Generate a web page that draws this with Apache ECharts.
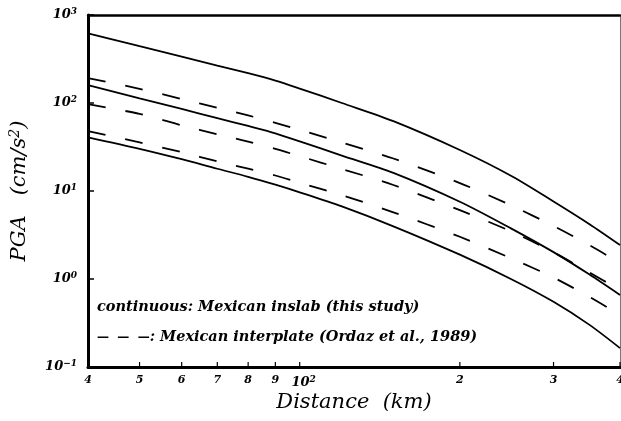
<!DOCTYPE html>
<html>
<head>
<meta charset="utf-8">
<script src="https://cdn.jsdelivr.net/npm/echarts@6/dist/echarts.min.js"></script>
<style>
  html, body { margin: 0; padding: 0; background: #fff; }
  #chart { width: 621px; height: 421px; }
</style>
</head>
<body>
<div id="chart"></div>
<script>
// Hypocentral distance (km) at which every curve is sampled
const distance = [40, 50, 60, 70, 80, 90, 100, 120, 150, 200, 250, 300, 350, 400];

// Mexican inslab model (this study): mean and +/- one sigma, PGA in cm/s^2
const inslabUpper = [619, 442, 336, 266, 218, 180, 146, 100, 62.1, 29.2, 14.8, 7.6, 4.22, 2.43];
const inslabMean  = [160, 113, 85.5, 67.4, 54.8, 45.3, 36.6, 25.3, 16.1, 7.56, 3.74, 2.02, 1.13, 0.658];
const inslabLower = [40.8, 30.2, 23.0, 17.9, 14.5, 11.8, 9.67, 6.68, 3.97, 1.89, 0.995, 0.551, 0.303, 0.164];

// Mexican interplate model (Ordaz et al., 1989): mean and +/- one sigma
const interUpper = [192, 145, 111, 88.2, 72.3, 59.4, 49.5, 35.6, 23.4, 12.3, 6.84, 4.00, 2.43, 1.52];
const interMean  = [96.9, 75.2, 55.8, 44.1, 36.4, 30.1, 24.9, 17.8, 11.7, 6.05, 3.46, 2.01, 1.19, 0.75];
const interLower = [48.0, 35.6, 27.6, 21.7, 17.9, 15.0, 12.4, 8.98, 5.73, 3.02, 1.71, 1.04, 0.628, 0.39];

// Axis ranges and tick labels
const xMin = 40, xMax = 400;
const yMin = 0.1, yMax = 1000;
const xTickValues = [40, 50, 60, 70, 80, 90, 100, 200, 300, 400];
const xTickLabels = ['4', '5', '6', '7', '8', '9', '10^2', '2', '3', '4'];
const yTickValues = [0.1, 1, 10, 100, 1000];
const yTickPowers = ['\u22121', '0', '1', '2', '3'];

const FONT = 'DejaVu Serif';

const pair = (ys) => distance.map((d, i) => [d, ys[i]]);

function curve(name, ys, dashed) {
  return {
    name: name,
    type: 'line',
    data: pair(ys),
    showSymbol: false,
    smooth: 0.3,
    silent: true,
    lineStyle: {
      color: '#000',
      width: 1.8,
      type: dashed ? [18, 20] : 'solid'
    }
  };
}

const chart = echarts.init(document.getElementById('chart'), null, { renderer: 'canvas' });

const noteStyle = { fontFamily: FONT, fontStyle: 'italic', fontWeight: 'bold', fontSize: 14.5, fill: '#000' };

chart.setOption({
  animation: false,
  backgroundColor: '#fff',
  grid: { left: 88, right: 1, top: 15, bottom: 54 },
  xAxis: [
    {
      type: 'log', logBase: 10, min: xMin, max: xMax,
      name: 'Distance  (km)', nameLocation: 'middle', nameGap: 25,
      nameTextStyle: { fontFamily: FONT, fontStyle: 'italic', fontSize: 21, color: '#000' },
      axisLine: { show: true, lineStyle: { color: '#000', width: 3 } },
      axisTick: { show: false }, axisLabel: { show: false },
      splitLine: { show: false }, minorTick: { show: false }
    },
    {
      type: 'log', logBase: 10, min: xMin, max: xMax, position: 'top',
      axisLine: { show: true, lineStyle: { color: '#000', width: 2.5 } },
      axisTick: { show: false }, axisLabel: { show: false }, splitLine: { show: false }
    }
  ],
  yAxis: [
    {
      type: 'log', logBase: 10, min: yMin, max: yMax,
      name: '{t|PGA   (cm/s}{s|2}{t|)}', nameLocation: 'middle', nameGap: 56, nameRotate: 90,
      nameTextStyle: {
        color: '#000',
        rich: {
          t: { fontFamily: FONT, fontStyle: 'italic', fontSize: 21, color: '#000' },
          s: { fontFamily: FONT, fontStyle: 'italic', fontSize: 14, color: '#000',
               verticalAlign: 'top', padding: [0, 0, 10, 0] }
        }
      },
      axisLine: { show: true, lineStyle: { color: '#000', width: 3 } },
      axisTick: { show: true, inside: true, length: 6, lineStyle: { color: '#000', width: 1.5 } },
      splitLine: { show: false },
      axisLabel: {
        margin: 11,
        formatter: (v) => {
          const i = yTickValues.findIndex((t) => Math.abs(Math.log10(t) - Math.log10(v)) < 1e-6);
          return '{b|10}{s|' + (i >= 0 ? yTickPowers[i] : '') + '}';
        },
        rich: {
          b: { fontFamily: FONT, fontStyle: 'italic', fontWeight: 'bold', fontSize: 13, color: '#000' },
          s: { fontFamily: FONT, fontStyle: 'italic', fontWeight: 'bold', fontSize: 9, color: '#000',
               verticalAlign: 'top', padding: [0, 0, 7, 0] }
        }
      }
    },
    {
      type: 'log', logBase: 10, min: yMin, max: yMax, position: 'right',
      axisLine: { show: true, lineStyle: { color: '#777', width: 1 } },
      axisTick: { show: false }, axisLabel: { show: false }, splitLine: { show: false }
    }
  ],
  graphic: [
    {
      type: 'text', left: 97, top: 300,
      style: Object.assign({ text: 'continuous: Mexican inslab (this study)' }, noteStyle)
    },
    {
      type: 'text', left: 97, top: 330,
      style: Object.assign({}, noteStyle, {
        text: '{d|\u2014  \u2014  \u2014}{t|: Mexican interplate (Ordaz et al., 1989)}',
        rich: {
          d: { fontFamily: FONT, fontWeight: 'bold', fontSize: 12, fill: '#000' },
          t: Object.assign({}, noteStyle)
        }
      })
    }
  ],
  series: [
    curve('Inslab +1 sigma', inslabUpper, false),
    curve('Inslab mean', inslabMean, false),
    curve('Inslab -1 sigma', inslabLower, false),
    curve('Interplate +1 sigma', interUpper, true),
    curve('Interplate mean', interMean, true),
    curve('Interplate -1 sigma', interLower, true),
    {
      // distance ticks and labels along the bottom axis
      type: 'custom',
      silent: true,
      clip: false,
      data: xTickValues.map((v, i) => [v, yMin, i]),
      renderItem: (params, api) => {
        const v = api.value(0);
        const i = api.value(2);
        const p = api.coord([v, yMin]);
        const lbl = xTickLabels[i];
        const isPow = lbl.indexOf('^') >= 0;
        const text = isPow ? '{b|' + lbl.split('^')[0] + '}{s|' + lbl.split('^')[1] + '}' : '{t|' + lbl + '}';
        return {
          type: 'group',
          children: [
            {
              type: 'line',
              shape: { x1: p[0], y1: p[1], x2: p[0], y2: p[1] - 5 },
              style: { stroke: '#000', lineWidth: 1.2 }
            },
            {
              type: 'text',
              x: p[0] + (isPow ? 4 : 0),
              y: p[1] + (isPow ? 16 : 13),
              style: {
                text: text,
                align: 'center',
                verticalAlign: 'middle',
                rich: {
                  t: { fontFamily: FONT, fontStyle: 'italic', fontWeight: 'bold', fontSize: 11, fill: '#000' },
                  b: { fontFamily: FONT, fontStyle: 'italic', fontWeight: 'bold', fontSize: 13, fill: '#000' },
                  s: { fontFamily: FONT, fontStyle: 'italic', fontWeight: 'bold', fontSize: 9, fill: '#000',
                       verticalAlign: 'top', padding: [0, 0, 7, 0] }
                }
              }
            }
          ]
        };
      }
    }
  ]
});
</script>
</body>
</html>
